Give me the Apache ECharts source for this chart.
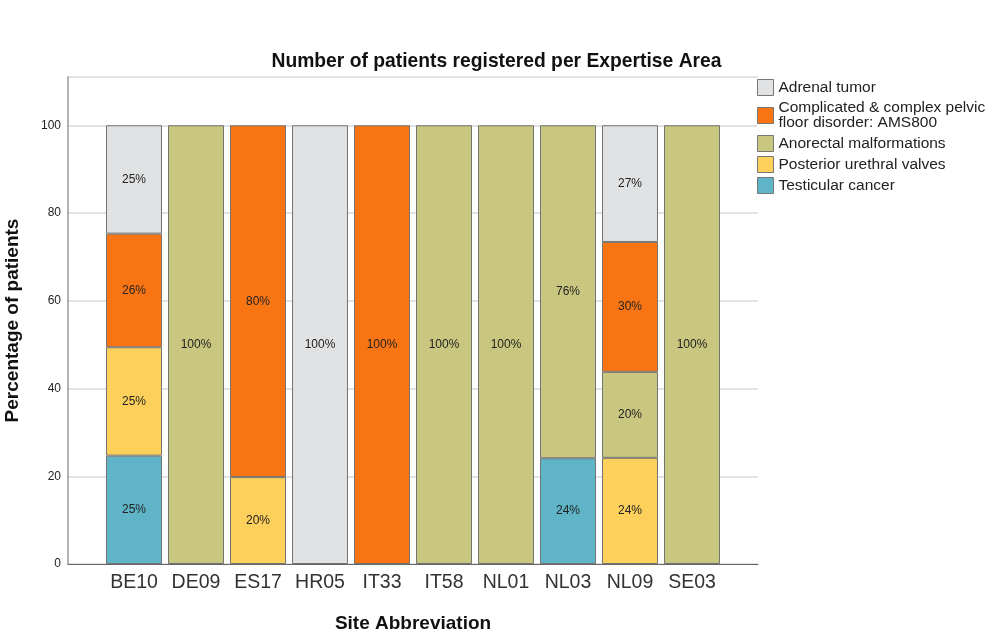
<!DOCTYPE html>
<html>
<head>
<meta charset="utf-8">
<script src="https://cdn.jsdelivr.net/npm/echarts@6/dist/echarts.min.js"></script>
<style>
  html, body { margin: 0; padding: 0; background: #fff; }
  #chart { width: 993px; height: 631px; }
</style>
</head>
<body>
<div id="chart"></div>
<script>
var sites = ['BE10', 'DE09', 'ES17', 'HR05', 'IT33', 'IT58', 'NL01', 'NL03', 'NL09', 'SE03'];
var yTicks = [0, 20, 40, 60, 80, 100];

// stacked from bottom to top
var testicular  = [24.7, '-', '-', '-', '-', '-', '-', 24.1, '-', '-'];
var posterior   = [24.7, '-', 19.8, '-', '-', '-', '-', '-', 24.2, '-'];
var anorectal   = ['-', 100, '-', '-', '-', 100, 100, 75.9, 19.6, 100];
var complicated = [25.9, '-', 80.2, '-', 100, '-', '-', '-', 29.6, '-'];
var adrenal     = [24.7, '-', '-', 100, '-', '-', '-', '-', 26.6, '-'];

var font = '"Liberation Sans", Arial, sans-serif';

function seg(name, data, color) {
	return {
		name: name,
		type: 'bar',
		stack: 'pct',
		xAxisIndex: 0,
		yAxisIndex: 0,
		barWidth: 56,
		data: data,
		itemStyle: { color: color, borderColor: '#737373', borderWidth: 1 },
		label: {
			show: true,
			position: 'inside',
			fontFamily: font,
			fontSize: 12,
			color: '#222',
			formatter: function (p) { return Math.round(p.value) + '%'; }
		}
	};
}

var chart = echarts.init(document.getElementById('chart'));
var option = {
	animation: false,
	backgroundColor: '#fff',
	title: {
		text: 'Number of patients registered per Expertise Area',
		left: 'center',
		top: 47,
		textStyle: { fontFamily: font, fontSize: 19.3, fontWeight: 'bold', color: '#111' }
	},
	legend: {
		orient: 'vertical',
		left: 757,
		top: 79,
		itemWidth: 16,
		itemHeight: 16,
		itemGap: 4,
		icon: 'rect',
		backgroundColor: '#fff',
		padding: 0,
		data: ['Adrenal tumor', 'Complicated & complex pelvic\nfloor disorder: AMS800',
			'Anorectal malformations', 'Posterior urethral valves', 'Testicular cancer'],
		itemStyle: { borderColor: '#777', borderWidth: 1 },
		textStyle: { fontFamily: font, fontSize: 15.5, lineHeight: 15, color: '#222' }
	},
	grid: [
		{ left: 103, right: 270, top: 77, bottom: 67, outerBoundsMode: 'none' },
		{ left: 68, right: 235, top: 77, bottom: 67, outerBoundsMode: 'none' }
	],
	xAxis: [
		{
			type: 'category',
			gridIndex: 0,
			data: sites,
			axisLine: { show: false },
			axisTick: { show: false },
			axisLabel: { interval: 0, fontFamily: font, fontSize: 19.5, color: '#333', margin: 9 },
			name: 'Site Abbreviation',
			nameLocation: 'middle',
			nameGap: 50,
			nameTextStyle: { fontFamily: font, fontSize: 19, fontWeight: 'bold', color: '#111' }
		},
		{
			type: 'value',
			gridIndex: 1,
			min: 0,
			max: 1,
			axisLine: { show: true, lineStyle: { color: '#666', width: 1 } },
			axisTick: { show: false },
			axisLabel: { show: false },
			splitLine: { show: false }
		}
	],
	yAxis: [
		{
			type: 'value',
			gridIndex: 0,
			min: 0,
			max: 111,
			show: false,
			splitLine: { show: false }
		},
		{
			type: 'value',
			gridIndex: 1,
			min: 0,
			max: 111,
			interval: 20,
			axisLine: { show: true, lineStyle: { color: '#999', width: 1.5 } },
			axisTick: { show: false },
			axisLabel: {
				fontFamily: font, fontSize: 12, color: '#222', margin: 7,
				showMaxLabel: false,
				formatter: function (v) { return yTicks.indexOf(v) >= 0 ? String(v) : ''; }
			},
			splitLine: { show: true, lineStyle: { color: '#d9d9d9', width: 1.5 } },
			name: 'Percentage of patients',
			nameLocation: 'middle',
			nameGap: 46,
			nameTextStyle: { fontFamily: font, fontSize: 19, fontWeight: 'bold', color: '#111' }
		}
	],
	series: [
		seg('Testicular cancer', testicular, '#5fb4c8'),
		seg('Posterior urethral valves', posterior, '#fdd05b'),
		seg('Anorectal malformations', anorectal, '#c9c77f'),
		seg('Complicated & complex pelvic\nfloor disorder: AMS800', complicated, '#f97514'),
		seg('Adrenal tumor', adrenal, '#e1e2e4')
	]
};
chart.setOption(option);
</script>
</body>
</html>
